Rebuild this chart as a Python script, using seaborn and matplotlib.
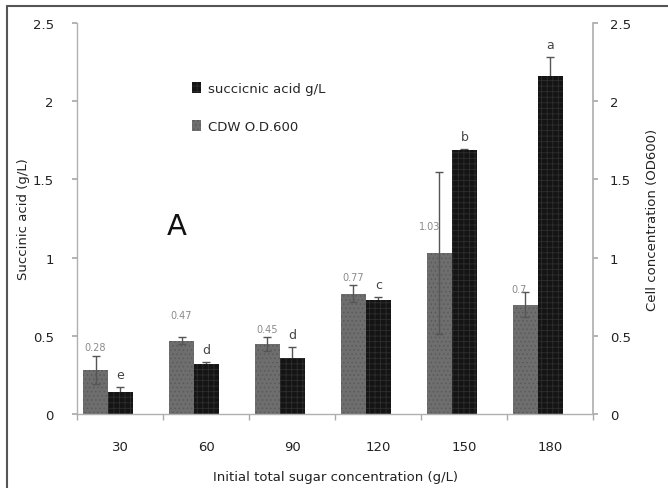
import matplotlib
matplotlib.use("Agg")
import matplotlib.pyplot as plt
from matplotlib.patches import Patch
from matplotlib.lines import Line2D
import seaborn as sns
import pandas as pd
import numpy as np

# data
sugar = ["30", "60", "90", "120", "150", "180"]
cdw = [0.28, 0.47, 0.45, 0.77, 1.03, 0.70]
cdw_err = [0.09, 0.02, 0.045, 0.055, 0.52, 0.078]
succinic = [0.14, 0.32, 0.36, 0.73, 1.69, 2.16]
succinic_err = [0.03, 0.015, 0.07, 0.02, 0.005, 0.12]
letters = ["e", "d", "d", "c", "b", "a"]
cdw_labels = ["0.28", "0.47", "0.45", "0.77", "1.03", "0.7"]

grey = "#6e6e6e"
black = "#141414"
shift = 0.14  # bars sit left of the category centre in the original

df = pd.DataFrame({
    "sugar": sugar * 2,
    "value": cdw + succinic,
    "series": ["CDW O.D.600"] * 6 + ["succicnic acid g/L"] * 6,
})

sns.set_theme(style="white")
plt.rcParams["font.family"] = ["DejaVu Sans"]
plt.rcParams["hatch.linewidth"] = 0.6

fig = plt.figure(figsize=(6.68, 4.89), dpi=100)
ax = fig.add_axes([0.1153, 0.1513, 0.7724, 0.7996])

sns.barplot(data=df, x="sugar", y="value", hue="series",
            hue_order=["CDW O.D.600", "succicnic acid g/L"],
            palette=[grey, black], width=0.58, errorbar=None,
            legend=False, ax=ax)

bars = ax.patches
grey_bars = bars[:6]
black_bars = bars[6:12]
for p in grey_bars:
    p.set_edgecolor("#5a5a5a")
    p.set_linewidth(0)
    p.set_hatch("....")
    p.set_zorder(2)
for p in black_bars:
    p.set_edgecolor("#2e2e2e")
    p.set_linewidth(0)
    p.set_hatch("+++")
    p.set_zorder(2)

gx = [p.get_x() + p.get_width() / 2 for p in grey_bars]
bx = [p.get_x() + p.get_width() / 2 for p in black_bars]

ax.errorbar(gx, cdw, yerr=cdw_err, fmt="none", ecolor="#555555",
            elinewidth=1, capsize=3, capthick=1, zorder=3)
# lower half of these is hidden behind the dark bars, as in the original
ax.errorbar(bx, succinic, yerr=succinic_err, fmt="none", ecolor="#555555",
            elinewidth=1, capsize=3, capthick=1, zorder=1)

# significance letters above the succinic bars
for x, v, e, t in zip(bx, succinic, succinic_err, letters):
    ax.text(x, v + e + 0.08, t, ha="center", va="center",
            fontsize=9, color="#444444")

# value labels for CDW bars (hand-placed in the original)
label_dy = [0.06, 0.14, 0.05, 0.05, 0.17, 0.10]
for i, (x, v, e, t) in enumerate(zip(gx, cdw, cdw_err, cdw_labels)):
    if i >= 4:
        ax.text(x + 0.01, v + label_dy[i] if i == 5 else 1.2, t,
                ha="right", va="center", fontsize=7, color="#8a8a8a")
    else:
        ax.text(x, v + e + label_dy[i], t, ha="center", va="center",
                fontsize=7, color="#8a8a8a")

ax.text(0.8, 1.2, "A", ha="center", va="center", fontsize=21, color="#111111")

ax.set_xlim(-0.5 + shift, 5.5 + shift)
ax.set_ylim(0, 2.5)
ax.set_xticks(np.arange(6) + shift)
ax.set_xticklabels(sugar)
ax.set_xticks(np.arange(7) - 0.5 + shift, minor=True)
ax.tick_params(axis="x", which="major", length=0, pad=19, labelsize=9.5,
               labelcolor="#222222")
ax.tick_params(axis="x", which="minor", length=4.3, color="#aaaaaa",
               direction="out", bottom=True)
ax.set_yticks([0, 0.5, 1, 1.5, 2, 2.5])
ax.set_yticklabels(["0", "0.5", "1", "1.5", "2", "2.5"])
ax.tick_params(axis="y", length=3.6, color="#aaaaaa", direction="out",
               left=True, labelsize=9.5, labelcolor="#222222", pad=13)

ax.set_xlabel("Initial total sugar concentration (g/L)", fontsize=9.5,
              color="#222222", labelpad=12)
ax.set_ylabel("Succinic acid (g/L)", fontsize=9.5, color="#222222")
ax.yaxis.set_label_coords(-0.091, 0.5)

for side in ["top", "right"]:
    ax.spines[side].set_visible(False)
for side in ["left", "bottom"]:
    ax.spines[side].set_color("#b0b0b0")
    ax.spines[side].set_linewidth(1)

ax2 = ax.twinx()
ax2.set_ylim(0, 2.5)
ax2.set_yticks([0, 0.5, 1, 1.5, 2, 2.5])
ax2.set_yticklabels(["0", "0.5", "1", "1.5", "2", "2.5"])
ax2.tick_params(axis="y", length=3.6, color="#aaaaaa", direction="out",
                right=True, labelsize=9.5, labelcolor="#222222", pad=8.6)
ax2.set_ylabel("Cell concentration (OD600)", fontsize=9.5, color="#222222")
ax2.yaxis.set_label_coords(1.1027, 0.5)
for side in ["top", "left", "bottom"]:
    ax2.spines[side].set_visible(False)
ax2.spines["right"].set_color("#b0b0b0")
ax2.grid(False)

handles = [Patch(facecolor=black, edgecolor="#2e2e2e", hatch="+++", lw=0,
                 label="succicnic acid g/L"),
           Patch(facecolor=grey, edgecolor="#5a5a5a", hatch="....", lw=0,
                 label="CDW O.D.600")]
ax.legend(handles=handles, loc="upper left", bbox_to_anchor=(0.2, 0.88),
          frameon=False, fontsize=9.5, handlelength=0.7, handleheight=0.9,
          handletextpad=0.5, labelspacing=1.9)

# outer frame of the original image (left and top edges)
fig.add_artist(Line2D([7 / 668, 7 / 668], [0, 1 - 7 / 489],
                      transform=fig.transFigure, color="#555555", lw=1.5))
fig.add_artist(Line2D([7 / 668, 1], [1 - 7 / 489, 1 - 7 / 489],
                      transform=fig.transFigure, color="#555555", lw=1.5))

fig.savefig("out.png", dpi=100)
